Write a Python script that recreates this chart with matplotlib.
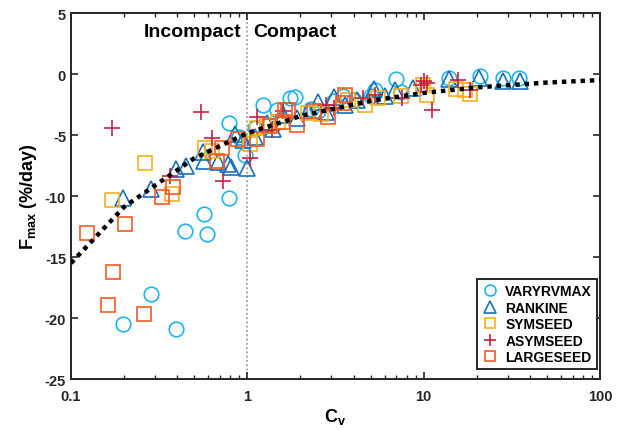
import matplotlib
matplotlib.use("Agg")
import matplotlib.pyplot as plt
from matplotlib.ticker import LogLocator, NullFormatter, FixedLocator

plt.rcParams['font.family'] = ['Liberation Sans', 'DejaVu Sans']
plt.rcParams['mathtext.fontset'] = 'custom'
plt.rcParams['mathtext.rm'] = 'Liberation Sans:bold'
plt.rcParams['mathtext.bf'] = 'Liberation Sans:bold'
plt.rcParams['mathtext.it'] = 'Liberation Sans:bold'

# ---- data ----
vary_x = [0.197, 0.283, 0.392, 0.442, 0.568, 0.587, 0.784, 0.784, 0.97, 0.90, 1.10, 1.23,
          1.47, 1.75, 1.87, 2.3, 2.5, 3.1, 3.5, 4.0, 5.0, 5.3, 7.0, 7.4, 14.0, 20.9, 28.2, 34.8]
vary_y = [-20.5, -18.0, -20.9, -12.9, -11.5, -13.1, -10.2, -4.05, -6.6, -5.2, -4.4, -2.5,
          -2.95, -2.0, -1.9, -2.9, -3.0, -2.2, -1.8, -2.1, -1.8, -1.3, -0.45, -1.5, -0.3, -0.2, -0.3, -0.3]

rank_x = [0.197, 0.283, 0.394, 0.449, 0.563, 0.568, 0.68, 0.78, 0.81, 0.85, 0.95, 0.99,
          1.10, 1.29, 1.40, 1.60, 1.90, 2.2, 2.5, 2.8, 3.1, 3.6, 4.2, 5.2, 6.0, 6.9, 8.7,
          14.0, 20.6, 28.3, 35.0]
rank_y = [-10.2, -9.45, -7.8, -7.5, -6.4, -7.1, -7.2, -7.4, -7.6, -4.9, -5.4, -7.7,
          -5.2, -4.0, -4.5, -3.4, -3.6, -3.0, -2.3, -3.1, -1.9, -2.5, -2.1, -1.2, -1.8, -1.3, -1.15,
          -0.45, -0.3, -0.55, -0.55]

sym_x = [0.171, 0.263, 0.374, 0.575, 0.63, 1.04, 1.13, 1.29, 1.5, 2.2, 2.6, 3.7, 4.65,
         5.5, 7.4, 9.9, 10.4, 15.3, 17.2, 18.2]
sym_y = [-10.3, -7.27, -9.84, -6.1, -6.3, -5.7, -4.45, -4.3, -3.9, -3.2, -3.3, -2.1, -2.5,
         -2.0, -1.8, -0.9, -1.7, -1.2, -1.3, -1.6]

asym_x = [0.171, 0.366, 0.546, 0.627, 0.731, 1.04, 1.13, 1.38, 1.6, 2.8, 3.1, 4.5, 5.3,
          7.5, 9.6, 10.0, 10.4, 11.2, 15.6, 18.2]
asym_y = [-4.45, -8.4, -3.14, -5.27, -8.74, -6.9, -3.5, -4.6, -3.0, -2.5, -2.8, -2.0, -1.7,
          -2.0, -0.9, -0.6, -0.77, -2.95, -0.5, -1.3]

large_x = [0.123, 0.163, 0.172, 0.203, 0.260, 0.327, 0.380, 0.671, 0.72, 0.89, 1.13, 1.35,
           1.59, 1.63, 1.71, 1.9, 2.4, 2.86, 3.5, 3.6]
large_y = [-13.06, -18.9, -16.2, -12.3, -19.7, -10.1, -9.23, -7.1, -6.1, -5.3, -5.3, -4.3,
           -3.9, -2.95, -2.95, -4.2, -3.0, -3.5, -2.4, -1.7]

fit_x = [0.1, 0.2, 0.5, 1, 2, 5, 10, 20, 50, 100]
fit_y = [-15.5, -10.9, -6.9, -4.85, -3.45, -2.2, -1.55, -1.1, -0.7, -0.5]

series_names = ['VARYRVMAX', 'RANKINE', 'SYMSEED', 'ASYMSEED', 'LARGESEED']
xticks = [0.1, 1, 10, 100]
xtick_labels = ['0.1', '1', '10', '100']
yticks = [-25, -20, -15, -10, -5, 0, 5]

c_vary = '#1DB5EC'
c_rank = '#1670BE'
c_sym = '#F3B21C'
c_asym = '#C8203F'
c_large = '#F25A26'

fig = plt.figure(figsize=(6.21, 4.31), dpi=100)
ax = fig.add_axes([0.1143, 0.1183, 0.852, 0.8492])

ax.axvline(1, color='#A8A8A8', lw=1.4, ls=(0, (1, 1.2)), zorder=1)

lw = 1.2
ax.plot(vary_x, vary_y, ls='none', marker='o', ms=10.5, mfc='none', mec=c_vary, mew=lw,
        label=series_names[0], zorder=2)
ax.plot(rank_x, rank_y, ls='none', marker='^', ms=11.5, mfc='none', mec=c_rank, mew=lw,
        label=series_names[1], zorder=3)
ax.plot(sym_x, sym_y, ls='none', marker='s', ms=9.5, mfc='none', mec=c_sym, mew=lw,
        label=series_names[2], zorder=4)
ax.plot(asym_x, asym_y, ls='none', marker='+', ms=11, mfc='none', mec=c_asym, mew=lw,
        label=series_names[3], zorder=5)
ax.plot(large_x, large_y, ls='none', marker='s', ms=9.5, mfc='none', mec=c_large, mew=lw,
        label=series_names[4], zorder=6)

ax.plot(fit_x, fit_y, color='black', lw=3.2, ls=(0, (1, 1.1)), dash_capstyle='butt', zorder=7)

ax.set_xscale('log')
ax.set_xlim(0.1, 100)
ax.set_ylim(-25, 5)
ax.xaxis.set_major_locator(FixedLocator(xticks))
ax.set_xticklabels(xtick_labels)
ax.xaxis.set_minor_locator(LogLocator(base=10, subs=range(2, 10)))
ax.xaxis.set_minor_formatter(NullFormatter())
ax.set_yticks(yticks)
ax.set_yticklabels([str(v) for v in yticks])

for s in ax.spines.values():
    s.set_linewidth(1.4)
    s.set_color('#262626')
ax.tick_params(which='both', direction='in', top=True, right=True, colors='#262626',
               labelcolor='#262626')
ax.tick_params(which='major', length=5, width=1.2, labelsize=10.5)
ax.tick_params(axis='x', which='major', pad=7)
ax.tick_params(which='minor', length=3, width=1.0)
for lab in ax.get_xticklabels() + ax.get_yticklabels():
    lab.set_fontweight('bold')

ax.set_xlabel(r'$\mathregular{C_v}$', fontsize=13, fontweight='bold', labelpad=2)
ax.set_ylabel(r'$\mathregular{F_{max}}$ (%/day)', fontsize=13, fontweight='bold', labelpad=4)

ax.text(0.93, 3.5, 'Incompact', ha='right', va='center', fontsize=14, fontweight='bold')
ax.text(1.08, 3.5, 'Compact', ha='left', va='center', fontsize=14, fontweight='bold')

leg = ax.legend(loc='lower right', bbox_to_anchor=(0.994, 0.027), borderaxespad=0,
                frameon=True, fancybox=False,
                edgecolor='#262626', framealpha=1, markerscale=0.75, handlelength=1.2,
                handletextpad=0.5, borderpad=0.35, labelspacing=0.18,
                prop={'weight': 'bold', 'size': 10})
leg.get_frame().set_linewidth(1.4)

fig.savefig('out.png', dpi=100)
